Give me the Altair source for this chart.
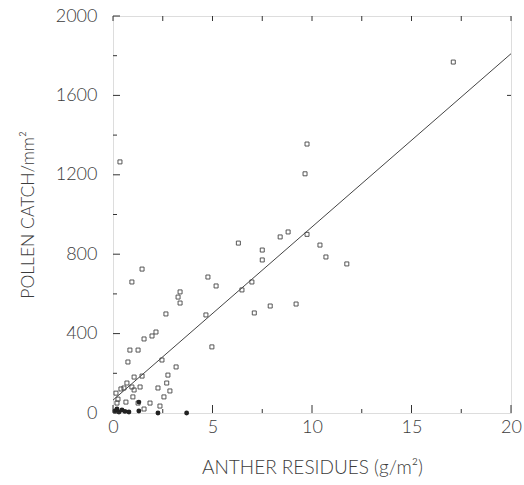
import altair as alt
import pandas as pd

# Open-square observations (anther residues g/m2, pollen catch /mm2)
open_x = [0.35, 17.1, 9.75, 9.65, 9.75, 10.4, 10.7, 11.75, 9.2, 7.9, 8.4, 8.8, 6.3, 7.5, 7.5,
          4.77, 5.18, 6.48, 6.98, 7.1, 4.67, 3.37, 3.27, 3.37, 2.66, 2.16, 1.96, 4.97, 0.95,
          1.46, 1.56, 0.85, 1.26, 0.75, 2.46, 3.17, 1.46, 1.06, 0.7, 2.76, 2.7, 2.26, 2.86,
          2.56, 1.36, 0.4, 0.55, 0.95, 1.06, 1.0, 0.65, 1.26, 1.86, 2.36, 1.56, 0.2, 0.25, 0.15]
open_y = [1265, 1768, 1355, 1205, 900, 846, 786, 751, 549, 539, 887, 912, 856, 821, 771,
          685, 640, 620, 660, 504, 494, 610, 584, 554, 499, 408, 388, 333, 660,
          725, 373, 317, 317, 257, 267, 232, 186, 181, 151, 191, 151, 126, 111,
          81, 131, 121, 126, 131, 116, 81, 55, 50, 50, 35, 20, 50, 70, 100]

# Dark (filled) observations near zero
filled_x = [0.1, 0.2, 0.3, 0.45, 0.6, 0.8, 1.3, 1.3, 2.26, 3.7]
filled_y = [10, 20, 5, 15, 8, 5, 10, 55, 0, 0]

# Regression line end points
line_x = [0, 20]
line_y = [65, 1810]

# Tick positions
x_major = [0, 5, 10, 15, 20]
x_minor = [2.5, 7.5, 12.5, 17.5]
y_major = [0, 400, 800, 1200, 1600, 2000]
y_minor = [200, 600, 1000, 1400, 1800]

W, H = 398, 397
FONT = "Lato"
INK = "#333333"
TXT = "#3c3c3c"

xs = alt.Scale(domain=[0, 20], nice=False, zero=False)
ys = alt.Scale(domain=[0, 2000], nice=False, zero=False)

x_axis = alt.Axis(values=x_major, format="d", title="ANTHER RESIDUES (g/m²)", ticks=False,
                  domain=False, grid=False, labelFontSize=18, labelColor=TXT, labelFont=FONT,
                  labelFontWeight=300, labelPadding=5,
                  titleFont=FONT, titleFontSize=19, titleFontWeight=300, titleColor=TXT,
                  titlePadding=22, labelFlush=False)
y_axis = alt.Axis(values=y_major, format="d", title="POLLEN CATCH/mm²", ticks=False,
                  domain=False, grid=False, labelFontSize=18, labelColor=TXT, labelFont=FONT,
                  labelFontWeight=300, labelPadding=16,
                  titleFont=FONT, titleFontSize=17.5, titleFontWeight=300, titleColor=TXT,
                  titlePadding=18, labelFlush=False)

pts = pd.DataFrame({"x": open_x, "y": open_y})
fpts = pd.DataFrame({"x": filled_x, "y": filled_y})
ln = pd.DataFrame({"x": line_x, "y": line_y})

base_points = alt.Chart(pts).mark_point(shape="square", filled=False, size=16, color="#444444",
                                         strokeWidth=0.9, opacity=1).encode(
    x=alt.X("x:Q", scale=xs, axis=x_axis),
    y=alt.Y("y:Q", scale=ys, axis=y_axis),
)
filled_points = alt.Chart(fpts).mark_point(shape="circle", filled=True, size=24, color="#222222",
                                            opacity=1).encode(
    x=alt.X("x:Q", scale=xs), y=alt.Y("y:Q", scale=ys))
reg = alt.Chart(ln).mark_line(color="#444444", strokeWidth=1).encode(
    x=alt.X("x:Q", scale=xs), y=alt.Y("y:Q", scale=ys))

def xticks(vals, length, top=False):
    d = pd.DataFrame({"v": vals})
    if top:
        return alt.Chart(d).mark_rule(color=INK, strokeWidth=1).encode(
            x=alt.X("v:Q", scale=xs), y=alt.value(0), y2=alt.value(length))
    return alt.Chart(d).mark_rule(color=INK, strokeWidth=1).encode(
        x=alt.X("v:Q", scale=xs), y=alt.value(H), y2=alt.value(H - length))

def yticks(vals, length, right=False):
    d = pd.DataFrame({"v": vals})
    if right:
        return alt.Chart(d).mark_rule(color=INK, strokeWidth=1).encode(
            y=alt.Y("v:Q", scale=ys), x=alt.value(W), x2=alt.value(W - length))
    return alt.Chart(d).mark_rule(color=INK, strokeWidth=1).encode(
        y=alt.Y("v:Q", scale=ys), x=alt.value(0), x2=alt.value(length))

chart = alt.layer(
    base_points, filled_points, reg,
    xticks(x_major, 8), xticks(x_minor, 4),
    xticks(x_major, 5, top=True), xticks(x_minor, 5, top=True),
    yticks(y_major, 7), yticks(y_minor, 4),
    yticks([1600], 4, right=True),
).properties(
    width=W, height=H,
    autosize=alt.AutoSizeParams(type="none"),
    padding={"left": 113, "top": 16, "right": 13, "bottom": 72},
).configure_view(stroke=INK, strokeWidth=1.2).configure(background="white")

chart.save("out.html", embed_options={"renderer": "svg", "actions": False})
